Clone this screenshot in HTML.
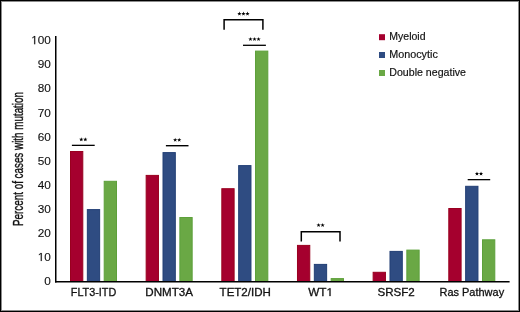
<!DOCTYPE html>
<html><head><meta charset="utf-8"><style>
html,body{margin:0;padding:0;background:#fff;}
.wrap{position:relative;width:520px;height:312px;overflow:hidden;background:#fff;}
svg{position:absolute;left:0;top:0;will-change:transform;}
.h{fill:transparent;stroke:none;}
.t{font-family:"Liberation Sans",sans-serif;font-size:11.1px;fill:#111;stroke:#111;stroke-width:0.3px;}
.tk{font-family:"Liberation Sans",sans-serif;font-size:11.8px;fill:#111;stroke:#111;stroke-width:0.12px;}
.lg{font-family:"Liberation Sans",sans-serif;font-size:10.5px;fill:#111;stroke:#111;stroke-width:0.18px;}
.yt{font-family:"Liberation Sans",sans-serif;font-size:14px;fill:#111;stroke:#111;stroke-width:0.4px;}
.b1{position:absolute;left:0;top:0;width:520px;height:312px;box-sizing:border-box;border:1px solid #000;}
.b2{position:absolute;left:1px;top:1px;width:518px;height:310px;box-sizing:border-box;border:1px solid rgba(0,0,0,0.45);}
</style></head><body><div class="wrap">
<svg width="520" height="312" viewBox="0 0 520 312">
<rect x="70.50" y="151.50" width="12.30" height="130.00" fill="#a5002e" stroke="#99001f" stroke-width="1"/>
<rect x="87.35" y="209.60" width="12.30" height="71.90" fill="#2f4c82" stroke="#223f75" stroke-width="1"/>
<rect x="104.20" y="181.30" width="12.30" height="100.20" fill="#6aa845" stroke="#5da03a" stroke-width="1"/>
<rect x="146.16" y="175.40" width="12.30" height="106.10" fill="#a5002e" stroke="#99001f" stroke-width="1"/>
<rect x="163.01" y="152.60" width="12.30" height="128.90" fill="#2f4c82" stroke="#223f75" stroke-width="1"/>
<rect x="179.86" y="217.50" width="12.30" height="64.00" fill="#6aa845" stroke="#5da03a" stroke-width="1"/>
<rect x="221.82" y="188.70" width="12.30" height="92.80" fill="#a5002e" stroke="#99001f" stroke-width="1"/>
<rect x="238.67" y="165.60" width="12.30" height="115.90" fill="#2f4c82" stroke="#223f75" stroke-width="1"/>
<rect x="255.52" y="51.10" width="12.30" height="230.40" fill="#6aa845" stroke="#5da03a" stroke-width="1"/>
<rect x="297.48" y="245.40" width="12.30" height="36.10" fill="#a5002e" stroke="#99001f" stroke-width="1"/>
<rect x="314.33" y="264.40" width="12.30" height="17.10" fill="#2f4c82" stroke="#223f75" stroke-width="1"/>
<rect x="331.18" y="278.60" width="12.30" height="2.90" fill="#6aa845" stroke="#5da03a" stroke-width="1"/>
<rect x="373.14" y="272.30" width="12.30" height="9.20" fill="#a5002e" stroke="#99001f" stroke-width="1"/>
<rect x="389.99" y="251.40" width="12.30" height="30.10" fill="#2f4c82" stroke="#223f75" stroke-width="1"/>
<rect x="406.84" y="250.10" width="12.30" height="31.40" fill="#6aa845" stroke="#5da03a" stroke-width="1"/>
<rect x="448.80" y="208.50" width="12.30" height="73.00" fill="#a5002e" stroke="#99001f" stroke-width="1"/>
<rect x="465.65" y="186.30" width="12.30" height="95.20" fill="#2f4c82" stroke="#223f75" stroke-width="1"/>
<rect x="482.50" y="239.80" width="12.30" height="41.70" fill="#6aa845" stroke="#5da03a" stroke-width="1"/>
<rect x="55" y="36" width="1.5" height="246.5" fill="#000"/>
<rect x="55" y="281" width="454.6" height="1.5" fill="#000"/>
<text x="50.9" y="285.20" class="tk" text-anchor="end">0</text>
<text x="50.9" y="261.10" class="tk" text-anchor="end"><tspan class="h">1</tspan>0</text>
<path d="M40.742,261.100 L41.785,261.100 L41.785,252.982 L40.829,252.982 L38.910,254.301 L38.910,255.281 L40.742,253.973 Z" fill="#111" stroke="#111" stroke-width="0.12" stroke-linejoin="miter" />
<text x="50.9" y="237.00" class="tk" text-anchor="end">20</text>
<text x="50.9" y="212.90" class="tk" text-anchor="end">30</text>
<text x="50.9" y="188.80" class="tk" text-anchor="end">40</text>
<text x="50.9" y="164.70" class="tk" text-anchor="end">50</text>
<text x="50.9" y="140.60" class="tk" text-anchor="end">60</text>
<text x="50.9" y="116.50" class="tk" text-anchor="end">70</text>
<text x="50.9" y="92.40" class="tk" text-anchor="end">80</text>
<text x="50.9" y="68.30" class="tk" text-anchor="end">90</text>
<text x="50.9" y="44.20" class="tk" text-anchor="end"><tspan class="h">1</tspan>00</text>
<path d="M34.179,44.200 L35.222,44.200 L35.222,36.082 L34.266,36.082 L32.347,37.401 L32.347,38.381 L34.179,37.073 Z" fill="#111" stroke="#111" stroke-width="0.12" stroke-linejoin="miter" />
<text transform="translate(93.50,296) scale(0.975,1)" class="t" text-anchor="middle">FLT3-ITD</text>
<text transform="translate(169.16,296) scale(1.045,1)" class="t" text-anchor="middle">DNMT3A</text>
<text transform="translate(245.22,296) scale(1.04,1)" class="t" text-anchor="middle">TET2/IDH</text>
<text transform="translate(320.68,296) scale(1.06,1)" class="t" text-anchor="middle">WT<tspan class="h">1</tspan></text>
<g transform="translate(320.68,296) scale(1.06,1)"><path d="M8.315,0.000 L9.296,0.000 L9.296,-7.637 L8.396,-7.637 L6.591,-6.396 L6.591,-5.474 L8.315,-6.704 Z" fill="#111" stroke="#111" stroke-width="0.3" stroke-linejoin="miter" /></g>
<text transform="translate(396.14,296) scale(1.043,1)" class="t" text-anchor="middle">SRSF2</text>
<text transform="translate(471.80,296) scale(0.99,1)" class="t" text-anchor="middle">Ras Pathway</text>
<text class="yt" transform="translate(22.6,159) rotate(-90) scale(0.703,1)" text-anchor="middle">Percent of cases with mutation</text>
<rect x="379" y="34.2" width="6" height="6" fill="#a5002e"/>
<text transform="translate(389.3,40.2) scale(1.0,1)" class="lg">Myeloid</text>
<rect x="379" y="52.0" width="6" height="6" fill="#2f4c82"/>
<text transform="translate(389.3,58.0) scale(1.027,1)" class="lg">Monocytic</text>
<rect x="379" y="70.0" width="6" height="6" fill="#6aa845"/>
<text transform="translate(389.3,76.0) scale(1.012,1)" class="lg">Double negative</text>
<rect x="71.90" y="144.70" width="22.80" height="1.3" fill="#000"/>
<path d="M0,-2 L0.47,-0.65 L1.9,-0.62 L0.76,0.25 L1.18,1.62 L0,0.8 L-1.18,1.62 L-0.76,0.25 L-1.9,-0.62 L-0.47,-0.65 Z" transform="translate(81.27,139.50) scale(1.12)" fill="#000"/>
<path d="M0,-2 L0.47,-0.65 L1.9,-0.62 L0.76,0.25 L1.18,1.62 L0,0.8 L-1.18,1.62 L-0.76,0.25 L-1.9,-0.62 L-0.47,-0.65 Z" transform="translate(85.32,139.50) scale(1.12)" fill="#000"/>
<rect x="165.90" y="145.00" width="22.60" height="1.4" fill="#000"/>
<path d="M0,-2 L0.47,-0.65 L1.9,-0.62 L0.76,0.25 L1.18,1.62 L0,0.8 L-1.18,1.62 L-0.76,0.25 L-1.9,-0.62 L-0.47,-0.65 Z" transform="translate(175.17,139.90) scale(1.12)" fill="#000"/>
<path d="M0,-2 L0.47,-0.65 L1.9,-0.62 L0.76,0.25 L1.18,1.62 L0,0.8 L-1.18,1.62 L-0.76,0.25 L-1.9,-0.62 L-0.47,-0.65 Z" transform="translate(179.22,139.90) scale(1.12)" fill="#000"/>
<path d="M224.10,29.80 V19.70 H262.90 V29.80" fill="none" stroke="#000" stroke-width="1.5"/>
<path d="M0,-2 L0.47,-0.65 L1.9,-0.62 L0.76,0.25 L1.18,1.62 L0,0.8 L-1.18,1.62 L-0.76,0.25 L-1.9,-0.62 L-0.47,-0.65 Z" transform="translate(239.40,13.80) scale(1.12)" fill="#000"/>
<path d="M0,-2 L0.47,-0.65 L1.9,-0.62 L0.76,0.25 L1.18,1.62 L0,0.8 L-1.18,1.62 L-0.76,0.25 L-1.9,-0.62 L-0.47,-0.65 Z" transform="translate(243.45,13.80) scale(1.12)" fill="#000"/>
<path d="M0,-2 L0.47,-0.65 L1.9,-0.62 L0.76,0.25 L1.18,1.62 L0,0.8 L-1.18,1.62 L-0.76,0.25 L-1.9,-0.62 L-0.47,-0.65 Z" transform="translate(247.50,13.80) scale(1.12)" fill="#000"/>
<rect x="243.00" y="44.65" width="22.90" height="1.3" fill="#000"/>
<path d="M0,-2 L0.47,-0.65 L1.9,-0.62 L0.76,0.25 L1.18,1.62 L0,0.8 L-1.18,1.62 L-0.76,0.25 L-1.9,-0.62 L-0.47,-0.65 Z" transform="translate(250.45,39.20) scale(1.12)" fill="#000"/>
<path d="M0,-2 L0.47,-0.65 L1.9,-0.62 L0.76,0.25 L1.18,1.62 L0,0.8 L-1.18,1.62 L-0.76,0.25 L-1.9,-0.62 L-0.47,-0.65 Z" transform="translate(254.50,39.20) scale(1.12)" fill="#000"/>
<path d="M0,-2 L0.47,-0.65 L1.9,-0.62 L0.76,0.25 L1.18,1.62 L0,0.8 L-1.18,1.62 L-0.76,0.25 L-1.9,-0.62 L-0.47,-0.65 Z" transform="translate(258.55,39.20) scale(1.12)" fill="#000"/>
<path d="M301.30,241.60 V231.70 H340.00 V241.60" fill="none" stroke="#000" stroke-width="1.5"/>
<path d="M0,-2 L0.47,-0.65 L1.9,-0.62 L0.76,0.25 L1.18,1.62 L0,0.8 L-1.18,1.62 L-0.76,0.25 L-1.9,-0.62 L-0.47,-0.65 Z" transform="translate(318.58,225.20) scale(1.12)" fill="#000"/>
<path d="M0,-2 L0.47,-0.65 L1.9,-0.62 L0.76,0.25 L1.18,1.62 L0,0.8 L-1.18,1.62 L-0.76,0.25 L-1.9,-0.62 L-0.47,-0.65 Z" transform="translate(322.63,225.20) scale(1.12)" fill="#000"/>
<rect x="467.70" y="179.00" width="22.50" height="1.3" fill="#000"/>
<path d="M0,-2 L0.47,-0.65 L1.9,-0.62 L0.76,0.25 L1.18,1.62 L0,0.8 L-1.18,1.62 L-0.76,0.25 L-1.9,-0.62 L-0.47,-0.65 Z" transform="translate(476.98,173.80) scale(1.12)" fill="#000"/>
<path d="M0,-2 L0.47,-0.65 L1.9,-0.62 L0.76,0.25 L1.18,1.62 L0,0.8 L-1.18,1.62 L-0.76,0.25 L-1.9,-0.62 L-0.47,-0.65 Z" transform="translate(481.03,173.80) scale(1.12)" fill="#000"/>
</svg>
<div class="b1"></div><div class="b2"></div>
</div></body></html>
